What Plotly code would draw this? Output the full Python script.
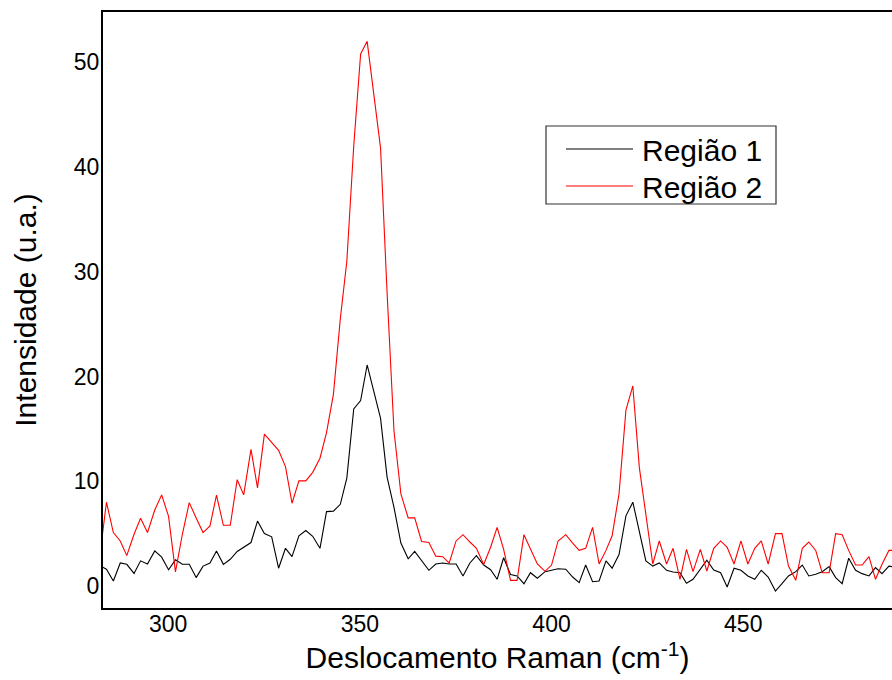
import plotly.graph_objects as go

# Raman shift (cm^-1)
x_cm = [282.1, 283.9, 285.7, 287.5, 289.2, 291.1, 292.8, 294.6, 296.5, 298.3,
        300.1, 301.9, 303.7, 305.5, 307.3, 309.1, 310.9, 312.6, 314.4, 316.2,
        318.0, 319.7, 321.6, 323.3, 325.1, 327.0, 328.8, 330.6, 332.3, 334.1,
        335.9, 337.7, 339.6, 341.3, 343.1, 344.9, 346.6, 348.4, 350.2, 351.9,
        353.7, 355.4, 357.1, 358.9, 360.7, 362.6, 364.3, 366.1, 368.0, 369.8,
        371.6, 373.3, 375.1, 376.9, 378.7, 380.4, 382.3, 384.1, 385.8, 387.5,
        389.3, 391.0, 392.8, 394.5, 396.3, 398.3, 400.0, 401.7, 403.7, 405.5,
        407.2, 408.9, 410.7, 412.4, 414.2, 415.8, 417.6, 419.4, 421.2, 422.9,
        424.6, 426.4, 428.1, 430.0, 431.7, 433.5, 435.2, 436.9, 438.8, 440.5,
        442.3, 444.1, 445.8, 447.6, 449.4, 451.2, 453.0, 454.7, 456.5, 458.4,
        460.1, 461.8, 463.7, 465.4, 467.1, 468.9, 470.6, 472.4, 474.1, 475.8,
        477.5, 479.3, 481.0, 482.8, 484.5, 486.2, 488.0, 489.7]

regiao1 = [1.95, 1.6, 0.48, 2.2, 2.07, 1.2, 2.4, 2.1, 3.35, 2.75,
           1.55, 2.5, 2.07, 2.07, 0.8, 1.9, 2.2, 3.35, 2.07, 2.55,
           3.3, 3.67, 4.15, 6.2, 5.0, 4.7, 1.7, 3.6, 2.8, 4.8,
           5.3, 4.75, 3.6, 7.1, 7.15, 7.8, 10.3, 16.9, 17.7, 21.1,
           18.5, 16.0, 10.4, 7.5, 4.1, 2.6, 3.3, 2.4, 1.5, 2.1,
           2.2, 2.1, 2.1, 0.96, 2.2, 2.9, 2.0, 1.55, 0.64, 2.7,
           1.1, 0.96, 0.22, 1.27, 0.74, 1.37, 1.5, 1.65, 1.6, 0.86,
           0.32, 2.0, 0.41, 0.48, 2.4, 1.7, 3.0, 6.7, 8.0, 5.3,
           2.4, 1.9, 2.2, 1.5, 1.34, 1.27, 0.26, 0.64, 1.6, 2.46,
           1.53, 1.27, -0.1, 1.7, 1.5, 0.96, 0.64, 1.5, 0.86, -0.48,
           0.22, 0.96, 1.37, 2.0, 0.96, 1.12, 1.37, 1.85, 0.8, 0.22,
           2.65, 1.5, 1.18, 0.96, 1.75, 1.18, 1.9, 1.8]

regiao2 = [2.7, 8.0, 5.1, 4.3, 2.9, 4.94, 6.47, 5.1, 7.25, 8.7,
           6.65, 1.35, 4.94, 7.96, 6.5, 5.1, 5.74, 8.67, 5.8, 5.8,
           10.15, 8.7, 13.05, 9.37, 14.5, 13.75, 12.95, 11.4, 7.9, 10.04,
           10.04, 10.85, 12.2, 14.65, 18.3, 25.5, 31.0, 42.0, 50.8, 52.0,
           47.0, 41.8, 28.0, 14.8, 8.8, 6.5, 6.5, 4.25, 4.15, 2.85,
           2.8, 2.2, 4.3, 4.9, 4.2, 3.6, 2.05, 3.7, 5.6, 3.5,
           0.54, 0.54, 4.9, 3.5, 2.1, 1.4, 2.0, 4.3, 4.9, 4.1,
           3.4, 3.6, 5.6, 2.1, 3.4, 4.8, 8.8, 16.8, 19.1, 11.3,
           6.7, 2.1, 4.3, 2.1, 3.6, 0.64, 3.5, 1.37, 3.5, 1.43,
           3.6, 4.3, 3.7, 2.1, 4.3, 2.1, 3.6, 4.3, 2.1, 5.0,
           5.0, 1.9, 0.54, 3.6, 4.2, 3.4, 1.27, 1.27, 5.0, 4.9,
           3.4, 2.0, 2.0, 2.8, 0.64, 2.07, 3.4, 3.4]

x_ticks = [300, 350, 400, 450]
y_ticks = [0, 10, 20, 30, 40, 50]
series_names = ["Região 1", "Região 2"]
series_colors = ["#000000", "#ff0000"]

FONT = "Liberation Sans, Arial, sans-serif"
W, H = 892, 680
ML, MR, MT, MB = 103, 0, 12, 72
PW, PH = W - ML - MR, H - MT - MB


def px_x(p):
    return (p - ML) / PW


def px_y(p):
    return (H - MB - p) / PH


fig = go.Figure()
for name, ys, col in zip(series_names, [regiao1, regiao2], series_colors):
    fig.add_trace(go.Scatter(x=x_cm, y=ys, mode="lines", name=name,
                             line=dict(color=col, width=1.1), showlegend=False))

# manual legend (box, sample lines, labels)
fig.add_shape(type="rect", xref="paper", yref="paper",
              x0=px_x(546), x1=px_x(776), y0=px_y(204), y1=px_y(126),
              line=dict(color="#333333", width=1.2), fillcolor="white")
for i, (name, col) in enumerate(zip(series_names, series_colors)):
    yy = 149 + i * 37
    fig.add_shape(type="line", xref="paper", yref="paper",
                  x0=px_x(566), x1=px_x(633), y0=px_y(yy), y1=px_y(yy),
                  line=dict(color=col, width=1.2))
    fig.add_annotation(xref="paper", yref="paper", x=px_x(640), y=px_y(yy + 1),
                       text=name, showarrow=False, xanchor="left", yanchor="middle",
                       font=dict(family=FONT, size=30, color="black"))

fig.update_layout(
    width=W, height=H,
    margin=dict(l=ML, r=MR, t=MT, b=MB, autoexpand=False),
    paper_bgcolor="white", plot_bgcolor="white",
    font=dict(family=FONT, color="black"),
)
fig.update_xaxes(range=[283.0, 488.8], tickvals=x_ticks, ticks="", showgrid=False,
                 zeroline=False, showline=True, linecolor="black", linewidth=2,
                 mirror=True, ticklabelstandoff=-6,
                 tickfont=dict(size=23, family=FONT, color="black"),
                 title=dict(text="Deslocamento Raman (cm<sup>-1</sup>)",
                            font=dict(size=30, family=FONT, color="black"),
                            standoff=8))
fig.update_yaxes(range=[-2.1, 54.8], tickvals=y_ticks, ticks="", showgrid=False,
                 zeroline=False, showline=True, linecolor="black", linewidth=2,
                 mirror=False, ticklabelstandoff=-3,
                 tickfont=dict(size=23, family=FONT, color="black"),
                 title=dict(text="Intensidade (u.a.)",
                            font=dict(size=30, family=FONT, color="black"),
                            standoff=28))

fig.write_html("out.html")
